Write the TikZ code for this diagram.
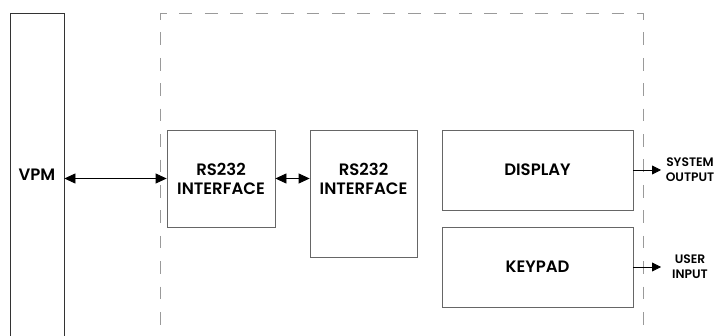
\documentclass[tikz,border=0pt]{standalone}
\usepackage{fontspec}
\setmainfont{Poppins}[BoldFont={Poppins SemiBold}]
\usetikzlibrary{arrows.meta}

\definecolor{boxline}{HTML}{666666}
\definecolor{dashline}{HTML}{9A9A9A}

\tikzset{
  block/.style={draw=boxline, line width=0.8pt, inner sep=0pt, align=center,
    font=\bfseries\fontsize{16.5}{19}\selectfont},
  blocktext/.style={inner sep=0pt, align=center, font=\bfseries\fontsize{16.5}{19}\selectfont},
  sidetext/.style={inner sep=0pt, align=center, font=\bfseries\fontsize{12.3}{15}\selectfont},
  dashbox/.style={dashline, line width=0.9pt, dash pattern=on 12.7pt off 12.72pt, dash phase=6pt},
  link/.style={line width=0.8pt, -{Triangle[length=9pt,width=9pt]}},
  biglink/.style={line width=0.8pt, {Triangle[length=11pt,width=10pt]}-{Triangle[length=11pt,width=10pt]}}
}

\begin{document}
\begin{tikzpicture}[x=1pt, y=-1pt]
  \useasboundingbox (0,0) rectangle (720,336);
  \clip (0,0) rectangle (720,336);
  \fill[white] (0,0) rectangle (720,336);

  % Πλαίσιο συστήματος
  \draw[dashbox] (160,13) -- (643,13) -- (643,360);
  \draw[dashbox] (160,13) -- (160,360);

  % VPM
  \node[block, draw=black!80, minimum width=54pt, minimum height=330pt] (vpm) at (37,178) {};
  \node[blocktext] (vpmt) at (37,175) {VPM};

  % Κουτιά
  \node[block, minimum width=108pt, minimum height=97pt] (rsa) at (221,178.5) {RS232\\INTERFACE};
  \node[block, minimum width=107pt, minimum height=127pt] (rsb) at (363.5,193.5) {};
  \node[blocktext] (rsbt) at (363.5,178.5) {RS232\\INTERFACE};
  \node[block, minimum width=191pt, minimum height=80pt] (disp) at (537.5,170) {DISPLAY};
  \node[block, minimum width=191pt, minimum height=80pt] (keys) at (537.5,267) {KEYPAD};

  % Έξοδοι
  \coordinate (dispout) at (661,170);
  \coordinate (keysout) at (661,267);
  \node[sidetext] (sysout) at (690,170) {SYSTEM\\OUTPUT};
  \node[sidetext] (usrin) at (690,267) {USER\\INPUT};

  % Βέλη
  \draw[biglink] (vpm.east |- rsa.west) -- (rsa.west);
  \draw[biglink] (rsa.east) -- (rsa.east -| rsb.west);
  \draw[link] (disp.east) -- (dispout);
  \draw[link] (keys.east) -- (keysout);

\end{tikzpicture}
\end{document}
